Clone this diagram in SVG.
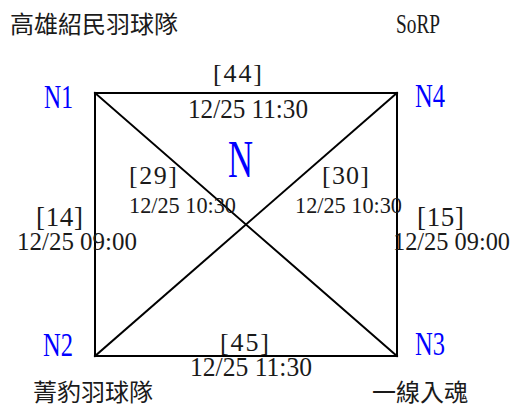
<svg xmlns="http://www.w3.org/2000/svg" width="515" height="407" viewBox="0 0 515 407">
<style>
.t{font-family:"Liberation Serif","Noto Sans CJK TC",serif;fill:#1a1a1a}
.cjk{font-family:"Noto Sans CJK TC","Noto Sans CJK SC",sans-serif;fill:#1a1a1a;font-size:24px}
.n{font-family:"Liberation Serif",serif;fill:#0000ff;font-size:34px}
.e{stroke:#000;stroke-width:2;fill:none;stroke-linecap:square}
</style>
<rect width="515" height="407" fill="#fff"/>
<g id="connectors">
<line class="e" x1="95" y1="93" x2="397" y2="93"/>
<line class="e" x1="95" y1="356" x2="397" y2="356"/>
<line class="e" x1="95" y1="93" x2="95" y2="356"/>
<line class="e" x1="397" y1="93" x2="397" y2="356"/>
<line class="e" x1="95" y1="93" x2="397" y2="356"/>
<line class="e" x1="95" y1="356" x2="397" y2="93"/>
<text class="t" x="213" y="82" font-size="26" textLength="49" lengthAdjust="spacing">[44]</text>
<text class="t" x="188" y="118" font-size="28" textLength="120" lengthAdjust="spacingAndGlyphs">12/25 11:30</text>
<text class="t" x="220" y="351" font-size="26" textLength="49" lengthAdjust="spacing">[45]</text>
<text class="t" x="190" y="376" font-size="27" textLength="122" lengthAdjust="spacingAndGlyphs">12/25 11:30</text>
<text class="t" x="129" y="184" font-size="26" textLength="48" lengthAdjust="spacing">[29]</text>
<text class="t" x="129" y="213" font-size="24" textLength="107" lengthAdjust="spacingAndGlyphs">12/25 10:30</text>
<text class="t" x="322" y="184" font-size="26" textLength="47" lengthAdjust="spacing">[30]</text>
<text class="t" x="295" y="213" font-size="24" textLength="107" lengthAdjust="spacingAndGlyphs">12/25 10:30</text>
<text class="t" x="36" y="226" font-size="27" textLength="47" lengthAdjust="spacing">[14]</text>
<text class="t" x="17" y="250" font-size="26" textLength="120" lengthAdjust="spacingAndGlyphs">12/25 09:00</text>
<text class="t" x="417" y="226" font-size="27" textLength="47" lengthAdjust="spacing">[15]</text>
<text class="t" x="393" y="250" font-size="25" textLength="117" lengthAdjust="spacingAndGlyphs">12/25 09:00</text>
</g>
<g id="N1"><text class="n" x="44" y="108" textLength="29" lengthAdjust="spacingAndGlyphs">N1</text></g>
<g id="N4"><text class="n" x="415" y="107" textLength="30" lengthAdjust="spacingAndGlyphs">N4</text></g>
<g id="N2"><text class="n" x="43" y="356" textLength="30" lengthAdjust="spacingAndGlyphs">N2</text></g>
<g id="N3"><text class="n" x="415" y="355" textLength="30" lengthAdjust="spacingAndGlyphs">N3</text></g>
<g id="center"><text class="n" x="228" y="177" style="font-size:52px" textLength="25" lengthAdjust="spacingAndGlyphs">N</text></g>
<g id="team-top-left"><text class="cjk" x="10" y="33">高雄紹民羽球隊</text></g>
<g id="team-top-right"><text class="t" x="396" y="33" font-size="27" textLength="44" lengthAdjust="spacingAndGlyphs">SoRP</text></g>
<g id="team-bottom-left"><text class="cjk" x="33" y="401">菁豹羽球隊</text></g>
<g id="team-bottom-right"><text class="cjk" x="372" y="401">一線入魂</text></g>
</svg>
